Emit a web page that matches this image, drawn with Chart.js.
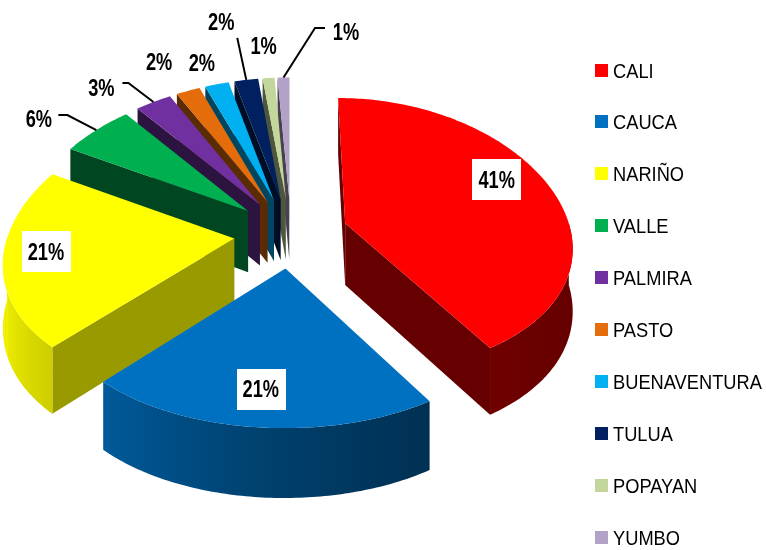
<!DOCTYPE html>
<html>
<head>
<meta charset="utf-8">
<script src="https://cdn.jsdelivr.net/npm/chart.js@4.4.1/dist/chart.umd.min.js"></script>
<style>
html,body{margin:0;padding:0;background:#ffffff;}
canvas{display:block;}
</style>
</head>
<body>
<canvas id="c" width="766" height="550"></canvas>
<script>
// ---------- DATA ----------
const CATEGORIES = ['CALI', 'CAUCA', 'NARIÑO', 'VALLE', 'PALMIRA', 'PASTO', 'BUENAVENTURA', 'TULUA', 'POPAYAN', 'YUMBO'];
const VALUES = [41, 21, 21, 6, 3, 2, 2, 2, 1, 1];

// ---------- STYLE ----------
const COLORS = ['#FF0000', '#0070C0', '#FFFF00', '#00B050', '#7030A0', '#E46C0A', '#00B0F0', '#002060', '#C3D69B', '#B3A2C7'];
const RADIAL_SHADE = [0.4, 0.4, 0.6, 0.4, 0.4, 0.4, 0.4, 0.4, 0.4, 0.4];
const GEOM = { cx: 291, cy: 233, tilt: 0.612, perspX: 1500, perspY: 2500, depth: 62, radius: 226, explode: 57 };
const FONT_FAMILY = '"Liberation Sans", Arial, sans-serif';
const LABEL_FONT = { size: 24, squeeze: 0.76 };
const LABEL_STYLE = [
  { inside: true, r: 0.72, dx: 3, dy: -17 },
  { inside: true, r: 0.72, dx: -6, dy: 9 },
  { inside: true, r: 0.72, dx: -23, dy: -3 },
  { dx: -57.5, dy: -12, leader: [[19.5, -3], [28.5, -3]] },
  { dx: -52, dy: -15, leader: [[21, -4], [27, -4]] },
  { dx: -29, dy: -29 },
  { dx: -15, dy: -22 },
  { dx: -25, dy: -59, leader: [[16, 17]] },
  { dx: -5, dy: -33 },
  { dx: 62.5, dy: -46.5, leader: [[-21, -3], [-31, -3]] }
];
const LEGEND = { x: 595, y0: 70, step: 51.9, box: 13, textX: 613, size: 21, squeeze: 0.87 };

function hexRgb(h) {
  const n = parseInt(h.slice(1), 16);
  return [(n >> 16) & 255, (n >> 8) & 255, n & 255];
}
function shade(h, f) {
  const c = hexRgb(h).map(v => Math.max(0, Math.min(255, Math.round(v * f))));
  return 'rgb(' + c.join(',') + ')';
}
function proj(X, Y, Z) {
  const kx = GEOM.perspX / (GEOM.perspX - Y);
  const ky = GEOM.perspY / (GEOM.perspY - Y);
  return { x: GEOM.cx + X * kx, y: GEOM.cy + (GEOM.tilt * Y + Z) * ky };
}
function curveLight(a) {
  return 0.4 + 0.55 * Math.pow((1 - Math.cos(a)) / 2, 1.8);
}
function signedArea(pts) {
  let s = 0;
  for (let i = 0; i < pts.length; i++) {
    const p = pts[i], q = pts[(i + 1) % pts.length];
    s += p.x * q.y - q.x * p.y;
  }
  return s / 2;
}

function sliceGeom(arc) {
  const s = GEOM.radius / arc.outerRadius;
  const e = (arc.options.offset || 0) * s;
  const a0 = arc.startAngle, a1 = arc.endAngle;
  const m = (a0 + a1) / 2;
  const R = GEOM.radius;
  return { a0, a1, m, R, tx: e * Math.cos(m), ty: e * Math.sin(m), color: arc.options.backgroundColor };
}
function outer(g, a, z) {
  return proj(g.tx + g.R * Math.cos(a), g.ty + g.R * Math.sin(a), z);
}
function arcPts(g, from, to, z) {
  const n = Math.max(2, Math.ceil(Math.abs(to - from) / 0.015));
  const pts = [];
  for (let i = 0; i <= n; i++) pts.push(outer(g, from + (to - from) * i / n, z));
  return pts;
}
function fillPoly(ctx, pts, style) {
  ctx.beginPath();
  pts.forEach((p, i) => i ? ctx.lineTo(p.x, p.y) : ctx.moveTo(p.x, p.y));
  ctx.closePath();
  ctx.fillStyle = style;
  ctx.fill();
}

function drawSlice(ctx, g, idx) {
  const H = GEOM.depth;
  const T0 = proj(g.tx, g.ty, 0), T1 = proj(g.tx, g.ty, H);
  const radial = shade(g.color, RADIAL_SHADE[idx]);
  const startFace = [T0, outer(g, g.a0, 0), outer(g, g.a0, H), T1];
  if (signedArea(startFace) < 0) fillPoly(ctx, startFace, radial);
  const endFace = [T0, outer(g, g.a1, 0), outer(g, g.a1, H), T1];
  if (signedArea(endFace) > 0) fillPoly(ctx, endFace, radial);
  const lo = Math.max(g.a0, 0), hi = Math.min(g.a1, Math.PI);
  if (hi > lo) {
    const top = arcPts(g, lo, hi, 0);
    const bot = arcPts(g, hi, lo, H);
    const xs = top.map(p => p.x);
    const xmin = Math.min(...xs), xmax = Math.max(...xs);
    let fill;
    if (xmax - xmin > 1) {
      fill = ctx.createLinearGradient(xmin, 0, xmax, 0);
      const n = 12;
      for (let i = 0; i <= n; i++) {
        const a = lo + (hi - lo) * i / n;
        const p = outer(g, a, 0);
        fill.addColorStop(Math.min(1, Math.max(0, (p.x - xmin) / (xmax - xmin))), shade(g.color, curveLight(a)));
      }
    } else {
      fill = shade(g.color, curveLight((lo + hi) / 2));
    }
    fillPoly(ctx, top.concat(bot), fill);
  }
  fillPoly(ctx, [T0].concat(arcPts(g, g.a0, g.a1, 0)), g.color);
}

function squeezedText(ctx, txt, x, y, squeeze, align) {
  ctx.save();
  ctx.translate(x, y);
  ctx.scale(squeeze, 1);
  ctx.textAlign = align;
  ctx.fillText(txt, 0, 0);
  ctx.restore();
}

const pie3d = {
  id: 'pie3d',
  beforeDatasetsDraw(chart) {
    const ctx = chart.ctx;
    const meta = chart.getDatasetMeta(0);
    const list = meta.data.map((arc, i) => ({ g: sliceGeom(arc), i }));
    list.sort((p, q) => p.g.ty - q.g.ty);
    ctx.save();
    list.forEach(it => drawSlice(ctx, it.g, it.i));
    ctx.restore();
    return false;
  },
  afterDraw(chart) {
    const ctx = chart.ctx;
    const meta = chart.getDatasetMeta(0);
    const values = chart.data.datasets[0].data;
    const total = values.reduce((a, b) => a + b, 0);
    ctx.save();
    ctx.textBaseline = 'alphabetic';
    meta.data.forEach((arc, i) => {
      const g = sliceGeom(arc);
      const st = LABEL_STYLE[i];
      const txt = Math.round(values[i] / total * 100) + '%';
      const size = LABEL_FONT.size;
      ctx.font = 'bold ' + size + 'px ' + FONT_FAMILY;
      const w = ctx.measureText(txt).width * LABEL_FONT.squeeze;
      const anchor = st.inside
        ? proj(g.tx + st.r * g.R * Math.cos(g.m), g.ty + st.r * g.R * Math.sin(g.m), 0)
        : outer(g, g.m, 0);
      const lx = anchor.x + st.dx;
      const ly = anchor.y + st.dy;
      if (st.leader) {
        ctx.beginPath();
        ctx.moveTo(lx + st.leader[0][0], ly + st.leader[0][1]);
        for (let k = 1; k < st.leader.length; k++) ctx.lineTo(lx + st.leader[k][0], ly + st.leader[k][1]);
        ctx.lineTo(anchor.x, anchor.y);
        ctx.strokeStyle = '#000000';
        ctx.lineWidth = 2;
        ctx.stroke();
      }
      if (st.inside) {
        ctx.fillStyle = '#ffffff';
        ctx.fillRect(Math.round(lx - w / 2 - 6), Math.round(ly - 20), Math.round(w + 12), 41);
      }
      ctx.fillStyle = '#000000';
      squeezedText(ctx, txt, lx, ly + 0.36 * size, LABEL_FONT.squeeze, 'center');
    });
    ctx.font = LEGEND.size + 'px ' + FONT_FAMILY;
    chart.data.labels.forEach((lab, i) => {
      const cy = LEGEND.y0 + i * LEGEND.step;
      ctx.fillStyle = chart.data.datasets[0].backgroundColor[i];
      ctx.fillRect(LEGEND.x, Math.round(cy - LEGEND.box / 2), LEGEND.box, LEGEND.box);
      ctx.fillStyle = '#000000';
      squeezedText(ctx, lab, LEGEND.textX, cy + 0.36 * LEGEND.size, LEGEND.squeeze, 'left');
    });
    ctx.restore();
  }
};

new Chart(document.getElementById('c'), {
  type: 'pie',
  data: {
    labels: CATEGORIES,
    datasets: [{
      data: VALUES,
      backgroundColor: COLORS,
      borderWidth: 0,
      offset: GEOM.explode
    }]
  },
  options: {
    responsive: false,
    animation: false,
    radius: GEOM.radius,
    layout: { padding: 0 },
    plugins: {
      legend: { display: false },
      tooltip: { enabled: false }
    }
  },
  plugins: [pie3d]
});
</script>
</body>
</html>
